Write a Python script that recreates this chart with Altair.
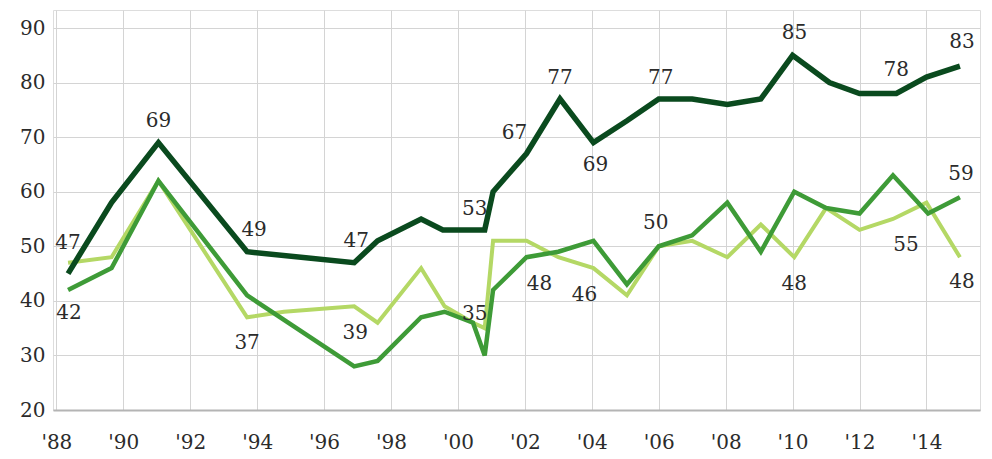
import altair as alt
import pandas as pd

# ---- data ----
dark_years = [1988.35, 1989.65, 1991.05, 1993.7, 1996.9, 1997.6, 1998.9, 1999.55, 2000.8, 2001.05,
              2002.05, 2003.05, 2004.05, 2005.05, 2006.0, 2007.0, 2008.05, 2009.05, 2010.0, 2011.1,
              2012.0, 2013.1, 2014.0, 2015.0]
dark_vals = [45, 58, 69, 49, 47, 51, 55, 53, 53, 60, 67, 77, 69, 73, 77, 77, 76, 77, 85, 80, 78, 78, 81, 83]

medium_years = [1988.35, 1989.65, 1991.05, 1993.7, 1996.9, 1997.6, 1998.9, 1999.6, 2000.45, 2000.8,
                2001.05, 2002.05, 2003.0, 2004.05, 2005.05, 2006.0, 2007.0, 2008.05, 2009.05, 2010.05,
                2011.0, 2012.0, 2013.0, 2014.05, 2015.0]
medium_vals = [42, 46, 62, 41, 28, 29, 37, 38, 36, 30, 42, 48, 49, 51, 43, 50, 52, 58, 49, 60, 57, 56, 63, 56, 59]

light_years = [1988.35, 1989.65, 1991.05, 1993.7, 1994.8, 1996.9, 1997.6, 1998.9, 1999.6, 2000.45,
               2000.8, 2001.05, 2002.05, 2003.0, 2004.05, 2005.05, 2006.0, 2007.0, 2008.05, 2009.05,
               2010.05, 2011.0, 2012.0, 2013.0, 2014.0, 2015.0]
light_vals = [47, 48, 62, 37, 38, 39, 36, 46, 39, 36, 35, 51, 51, 48, 46, 41, 50, 51, 48, 54, 48, 57, 53, 55, 58, 48]

x_tick_years = [1988, 1990, 1992, 1994, 1996, 1998, 2000, 2002, 2004, 2006, 2008, 2010, 2012, 2014]
y_ticks = [20, 30, 40, 50, 60, 70, 80, 90]

# labelled points: (series, index in that series)
label_points = [("light", 0), ("medium", 0), ("dark", 2), ("dark", 3), ("light", 3), ("dark", 4),
                ("light", 5), ("dark", 8), ("light", 10), ("dark", 10), ("dark", 11), ("dark", 12),
                ("medium", 11), ("light", 14), ("medium", 15), ("dark", 14), ("dark", 18), ("light", 20),
                ("dark", 21), ("light", 23), ("dark", 23), ("medium", 24), ("light", 25)]
# pixel offsets of each label (style, kept apart from values)
label_dx = [0, 1, 0, 7, 0, 2, 1, -10, -10, -12, 0, 2, 13, -9, -3, 2, 2, 0, 0, 13, 2, 1, 2]
label_dy = [-20, 23, -22, -22, 26, -22, 27, -21, -14, -21, -21, 22, 27, 27, -23, -21, -22, 27, -23, 26, -24, -23, 25]

series = {
    "dark": (dark_years, dark_vals),
    "medium": (medium_years, medium_vals),
    "light": (light_years, light_vals),
}
colors = {"dark": "#0a4a1e", "medium": "#3e9b37", "light": "#b4d865"}
widths = {"dark": 5.5, "medium": 4.5, "light": 4}

rows = []
for name, (ys, vs) in series.items():
    for i, (yr, v) in enumerate(zip(ys, vs)):
        rows.append({"series": name, "year": yr, "value": v, "order": i})
df = pd.DataFrame(rows)

FONT = "DejaVu Serif"
TEXT_COLOR = "#2b2b2b"

x_enc = alt.X(
    "year:Q",
    scale=alt.Scale(domain=[1987.9, 2015.6], nice=False, zero=False),
    axis=alt.Axis(values=x_tick_years, labelExpr="\"'\" + substring(toString(datum.value), 2)",
                  grid=True, gridColor="#d4d4d4", gridWidth=1, ticks=False,
                  domain=True, domainColor="#b4b4b4", domainWidth=2,
                  labelFont=FONT, labelFontSize=20, labelColor=TEXT_COLOR, labelPadding=22,
                  title=None),
)
y_enc = alt.Y(
    "value:Q",
    scale=alt.Scale(domain=[20, 93.3], nice=False, zero=False),
    axis=alt.Axis(values=y_ticks, grid=True, gridColor="#d4d4d4", gridWidth=1, ticks=False,
                  domain=False, labelFont=FONT, labelFontSize=20, labelColor=TEXT_COLOR,
                  labelPadding=8, title=None),
)

layers = []
for name in ["light", "medium", "dark"]:
    layers.append(
        alt.Chart(df[df.series == name]).mark_line(
            color=colors[name], strokeWidth=widths[name], strokeJoin="miter", strokeCap="butt"
        ).encode(x=x_enc, y=y_enc, order="order:Q")
    )

for (name, idx), dx, dy in zip(label_points, label_dx, label_dy):
    ys, vs = series[name]
    one = pd.DataFrame({"year": [ys[idx]], "value": [vs[idx]], "text": [str(vs[idx])]})
    layers.append(
        alt.Chart(one).mark_text(
            font=FONT, fontSize=20, color=TEXT_COLOR, baseline="middle", align="center",
            dx=dx, dy=dy
        ).encode(x=alt.X("year:Q"), y=alt.Y("value:Q"), text="text:N")
    )

chart = alt.layer(*layers).properties(
    width=927, height=400,
    autosize=alt.AutoSizeParams(type="none"),
    padding={"left": 45, "top": 2, "right": 4, "bottom": 47},
).configure_view(stroke=None).configure(background="white")

chart.save("out.html", embed_options={"renderer": "svg", "actions": False})
